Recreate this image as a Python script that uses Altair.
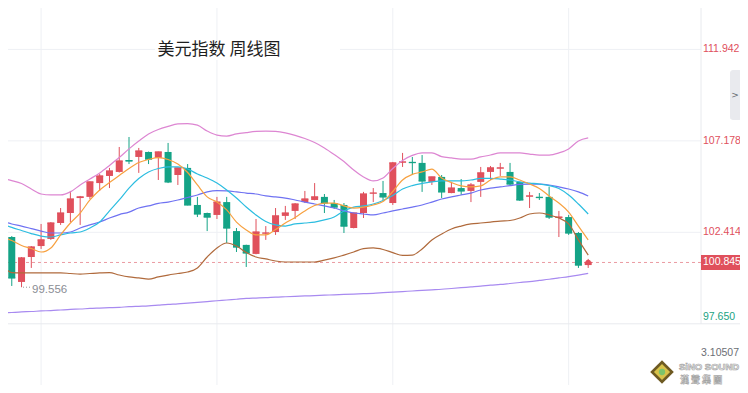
import altair as alt
import pandas as pd

# ---------------- data ----------------
title_text = "美元指数 周线图"

candle_idx = list(range(61))
opens = [103.06, 102.17, 99.83, 101.13, 101.70, 102.07, 102.90, 103.42, 104.20, 104.26,
         104.98, 105.35, 105.56, 106.18, 106.34, 106.60, 106.29, 106.60, 105.40, 105.77,
         103.84, 103.42, 103.32, 103.99, 102.48, 101.76, 101.29, 102.35, 102.43, 103.27,
         103.53, 103.99, 104.10, 104.26, 103.94, 103.84, 102.64, 103.42, 104.44, 104.46,
         103.94, 106.05, 106.08, 106.03, 105.04, 105.30, 104.46, 104.72, 104.57, 105.04,
         105.56, 105.74, 105.56, 105.04, 104.28, 104.26, 104.26, 103.16, 103.21, 102.38,
         100.71]
highs = [103.58, 102.22, 101.13, 101.70, 102.85, 102.95, 103.68, 104.57, 104.31, 105.06,
         105.45, 105.77, 106.86, 107.38, 106.81, 106.62, 106.62, 107.07, 105.78, 105.97,
         104.26, 103.44, 104.26, 104.26, 102.64, 101.77, 103.11, 102.74, 103.68, 103.79,
         103.94, 104.57, 104.98, 104.41, 104.10, 103.94, 103.44, 104.52, 104.72, 105.09,
         106.08, 106.55, 106.34, 106.44, 105.31, 105.40, 105.04, 105.19, 104.98, 105.82,
         105.87, 106.03, 106.03, 105.05, 104.52, 104.46, 104.78, 103.53, 103.32, 102.43,
         101.03]
lows = [102.17, 99.62, 99.556, 100.56, 101.55, 102.02, 102.80, 102.95, 102.80, 104.15,
        104.57, 104.72, 105.53, 105.97, 105.51, 105.97, 105.14, 104.98, 104.88, 103.82,
        103.21, 102.48, 103.11, 101.86, 101.39, 100.61, 101.27, 102.02, 102.28, 103.06,
        103.11, 103.94, 104.08, 103.42, 103.63, 102.38, 102.62, 103.16, 103.99, 104.10,
        103.84, 105.82, 105.40, 104.52, 104.88, 104.20, 104.45, 104.36, 103.99, 104.26,
        105.14, 105.35, 104.88, 104.05, 103.68, 104.10, 103.11, 102.17, 102.28, 100.56,
        100.56]
closes = [102.28, 100.04, 101.08, 101.65, 102.02, 102.90, 103.42, 104.15, 104.26, 105.04,
          105.35, 105.61, 106.13, 106.13, 106.65, 106.23, 106.60, 105.04, 105.77, 103.84,
          103.37, 103.21, 103.99, 102.64, 101.65, 101.34, 102.43, 102.38, 103.27, 103.42,
          103.89, 104.15, 104.26, 103.94, 103.73, 102.74, 103.42, 104.41, 104.46, 104.26,
          106.03, 106.08, 106.05, 105.09, 105.30, 104.52, 104.72, 104.57, 104.88, 105.51,
          105.77, 105.77, 104.93, 104.10, 104.31, 104.23, 103.21, 103.21, 102.38, 100.71,
          100.845]

boll_upper = [105.22, 105.11, 104.96, 104.67, 104.41, 104.36, 104.36, 104.52, 104.88, 105.19,
              105.51, 105.90, 106.31, 106.76, 107.17, 107.54, 107.77, 107.93, 108.06, 108.08,
              108.00, 107.69, 107.48, 107.43, 107.54, 107.61, 107.67, 107.69, 107.67, 107.59,
              107.46, 107.30, 107.09, 106.81, 106.47, 106.10, 105.66, 105.30, 105.09, 105.24,
              105.74, 106.16, 106.42, 106.55, 106.55, 106.36, 106.29, 106.23, 106.23, 106.34,
              106.44, 106.55, 106.55, 106.55, 106.49, 106.44, 106.44, 106.55, 106.76, 107.17,
              107.33]
ma_fast = [102.15, 101.99, 101.73, 101.57, 101.39, 101.60, 102.28, 102.90, 103.42, 104.10,
           104.62, 105.01, 105.37, 105.74, 106.05, 106.21, 106.31, 106.21, 105.97, 105.53,
           104.88, 104.26, 103.99, 103.58, 102.95, 102.54, 102.28, 102.28, 102.56, 102.90,
           103.19, 103.53, 103.81, 103.94, 103.94, 103.79, 103.68, 103.73, 103.84, 104.02,
           104.54, 105.14, 105.43, 105.56, 105.71, 105.24, 105.01, 104.83, 104.78, 104.83,
           105.14, 105.30, 105.30, 105.14, 104.93, 104.70, 104.31, 103.94, 103.47, 102.74,
           102.02]
ma_mid = [102.85, 102.67, 102.51, 102.35, 102.22, 102.17, 102.28, 102.38, 102.43, 102.64,
          102.95, 103.53, 104.10, 104.72, 105.22, 105.56, 105.74, 105.82, 105.82, 105.71,
          105.45, 105.24, 104.98, 104.62, 104.20, 103.73, 103.32, 102.98, 102.80, 102.74,
          102.85, 102.90, 102.95, 103.06, 103.21, 103.53, 103.73, 103.79, 103.89, 104.07,
          104.33, 104.67, 104.85, 104.96, 105.04, 105.09, 105.09, 105.09, 105.14, 105.22,
          105.22, 105.19, 105.14, 105.04, 104.98, 104.93, 104.85, 104.70, 104.36, 103.89,
          103.37]
ma_slow = [103.00, 102.85, 102.74, 102.61, 102.48, 102.38, 102.38, 102.43, 102.64, 102.80,
           102.95, 103.16, 103.34, 103.47, 103.68, 103.79, 103.92, 103.99, 104.10, 104.23,
           104.36, 104.52, 104.59, 104.57, 104.52, 104.46, 104.41, 104.31, 104.26, 104.20,
           104.10, 103.99, 103.89, 103.79, 103.68, 103.53, 103.42, 103.37, 103.32, 103.42,
           103.53, 103.63, 103.73, 103.84, 103.99, 104.15, 104.26, 104.36, 104.46, 104.62,
           104.72, 104.78, 104.85, 104.91, 104.93, 104.93, 104.88, 104.78, 104.67, 104.52,
           104.31]
boll_lower = [100.71, 100.32, 100.30, 100.30, 100.30, 100.30, 100.30, 100.27, 100.24, 100.27,
              100.30, 100.32, 100.19, 100.09, 100.04, 99.98, 100.09, 100.19, 100.27, 100.35,
              100.56, 101.13, 101.60, 101.86, 101.70, 101.36, 101.13, 101.03, 100.92, 100.87,
              100.87, 100.87, 100.87, 100.97, 101.08, 101.23, 101.39, 101.57, 101.60, 101.52,
              101.36, 101.21, 101.23, 101.55, 102.02, 102.33, 102.59, 102.74, 102.85, 102.90,
              102.95, 103.00, 103.03, 103.16, 103.37, 103.42, 103.32, 103.16, 102.85, 102.02,
              101.23]
ma_long = [98.21, 98.24, 98.27, 98.29, 98.32, 98.34, 98.37, 98.40, 98.42, 98.45,
           98.47, 98.49, 98.51, 98.54, 98.56, 98.58, 98.62, 98.66, 98.69, 98.73,
           98.77, 98.81, 98.85, 98.89, 98.93, 98.97, 98.99, 99.01, 99.04, 99.06,
           99.08, 99.10, 99.12, 99.14, 99.16, 99.18, 99.20, 99.22, 99.24, 99.27,
           99.30, 99.33, 99.36, 99.39, 99.42, 99.45, 99.49, 99.53, 99.57, 99.61,
           99.66, 99.70, 99.75, 99.80, 99.85, 99.91, 99.97, 100.04, 100.11, 100.19,
           100.28]

grid_idx = [4, 22, 40, 58]
axis_ticks = [111.942, 107.178, 102.414]
bottom_tick = 97.650
last_price = 100.845
low_price = 99.556
low_label = "99.556"
sub_panel_label = "3.10507"

# ---------------- styles ----------------
UP = "#e0505c"
DOWN = "#14a386"
GRID = "#eef0f4"
NUMFONT = "Liberation Sans"

W, H = 732, 377          # fits the 748x393 window with its 8px page margin
SEP = 693                # right price-axis separator (plot px)
LAB = 695                # right price-axis label start
xs = alt.Scale(domain=[0.614, 75.538], nice=False, zero=False, padding=0)
ys = alt.Scale(domain=[94.463, 114.098], nice=False, zero=False, padding=0)

df = pd.DataFrame({
    "i": candle_idx, "open": opens, "high": highs, "low": lows, "close": closes,
    "bu": boll_upper, "mf": ma_fast, "mm": ma_mid, "ms": ma_slow,
    "bl": boll_lower, "ml": ma_long,
})
df["dir"] = ["up" if c >= o else "down" for o, c in zip(opens, closes)]

X = alt.X("i:Q", scale=xs, axis=None)
col = alt.Color("dir:N", scale=alt.Scale(domain=["up", "down"], range=[UP, DOWN]), legend=None)
base = alt.Chart(df)

# grid
vgrid = alt.Chart(pd.DataFrame({"g": grid_idx})).mark_rule(color=GRID, strokeWidth=1, clip=True).encode(
    x=alt.X("g:Q", scale=xs, axis=None), y=alt.value(0), y2=alt.value(H))
hgrid = alt.Chart(pd.DataFrame({"v": axis_ticks})).mark_rule(color=GRID, strokeWidth=1).encode(
    y=alt.Y("v:Q", scale=ys, axis=None), x=alt.value(0), x2=alt.value(SEP))
bgrid = alt.Chart(pd.DataFrame({"v": [bottom_tick]})).mark_rule(color="#e8eaee", strokeWidth=1).encode(
    y=alt.Y("v:Q", scale=ys, axis=None), x=alt.value(0), x2=alt.value(W))
sep = alt.Chart(pd.DataFrame({"a": [0]})).mark_rule(color="#e8eaee", strokeWidth=1).encode(
    x=alt.value(SEP), y=alt.value(0), y2=alt.value(316))

# title with white backing
tbg = alt.Chart(pd.DataFrame({"a": [0]})).mark_rect(color="white").encode(
    x=alt.value(147), x2=alt.value(332), y=alt.value(33), y2=alt.value(52))
title = alt.Chart(pd.DataFrame({"t": [title_text]})).mark_text(
    font="Noto Sans CJK SC", fontSize=17, color="#1e1e1e", align="center", baseline="middle").encode(
    x=alt.value(211), y=alt.value(42), text="t:N")

# price dashed line
pline = alt.Chart(pd.DataFrame({"v": [last_price]})).mark_rule(
    color="#eb9aa1", strokeWidth=1, strokeDash=[3, 3]).encode(
    y=alt.Y("v:Q", scale=ys, axis=None), x=alt.value(0), x2=alt.value(SEP))

# candles
wick = base.mark_rule(strokeWidth=1, clip=True).encode(
    x=X, y=alt.Y("low:Q", scale=ys, axis=None), y2="high:Q", color=col)
body = base.mark_bar(size=7, clip=True).encode(
    x=X, y=alt.Y("open:Q", scale=ys, axis=None), y2="close:Q", color=col)
ctick = base.transform_calculate(xl="datum.i - 0.36", xr="datum.i + 0.36").mark_rule(
    strokeWidth=1.3, clip=True).encode(
    x=alt.X("xl:Q", scale=xs, axis=None), x2="xr:Q", y=alt.Y("close:Q", scale=ys, axis=None), color=col)

def line(field, color, w=1.2):
    return base.mark_line(color=color, strokeWidth=w, clip=True, interpolate="monotone").encode(
        x=X, y=alt.Y(f"{field}:Q", scale=ys, axis=None))

lines = [line("ml", "#a88af0"), line("bl", "#b06a3c"), line("bu", "#dd86d2"),
         line("ms", "#6f72f2"), line("mm", "#2cbde0"), line("mf", "#f7a140")]

# last point dot
lastdot = alt.Chart(pd.DataFrame({"i": [candle_idx[-1]], "v": [last_price]})).mark_point(
    filled=True, size=30, color=UP, opacity=1).encode(x=X, y=alt.Y("v:Q", scale=ys, axis=None))

# low marker
lowlead = alt.Chart(pd.DataFrame({"v": [low_price]})).mark_rule(
    color="#999999", strokeWidth=1, strokeDash=[1, 2]).encode(
    y=alt.Y("v:Q", scale=ys, axis=None), x=alt.value(15), x2=alt.value(22))
lowtext = alt.Chart(pd.DataFrame({"v": [low_price], "t": [low_label]})).mark_text(
    font=NUMFONT, fontSize=11.5, color="#8a8d94", align="left", baseline="middle", dy=3).encode(
    y=alt.Y("v:Q", scale=ys, axis=None), x=alt.value(24), text="t:N")

# right axis labels
ax_df = pd.DataFrame({"v": axis_ticks, "t": [f"{v:.3f}" for v in axis_ticks]})
axlab = alt.Chart(ax_df).mark_text(font=NUMFONT, fontSize=10.5, color="#e0505c", align="left",
                                   baseline="middle").encode(
    y=alt.Y("v:Q", scale=ys, axis=None), x=alt.value(LAB), text="t:N")
botlab = alt.Chart(pd.DataFrame({"v": [bottom_tick], "t": [f"{bottom_tick:.3f}"]})).mark_text(
    font=NUMFONT, fontSize=10.5, color="#1aa383", align="left", baseline="middle", dy=-7).encode(
    y=alt.Y("v:Q", scale=ys, axis=None), x=alt.value(LAB), text="t:N")
pbox = alt.Chart(pd.DataFrame({"v": [last_price]})).mark_rect(
    color="#e0505c", yOffset=-7.5, y2Offset=7.5).encode(
    y=alt.Y("v:Q", scale=ys, axis=None), y2="v:Q", x=alt.value(SEP), x2=alt.value(W))
plab = alt.Chart(pd.DataFrame({"v": [last_price], "t": [f"{last_price:.3f}"]})).mark_text(
    font=NUMFONT, fontSize=10.5, color="white", align="left", baseline="middle").encode(
    y=alt.Y("v:Q", scale=ys, axis=None), x=alt.value(LAB), text="t:N")
sublab = alt.Chart(pd.DataFrame({"t": [sub_panel_label]})).mark_text(
    font=NUMFONT, fontSize=10.5, color="#6b6e75", align="right", baseline="middle").encode(
    x=alt.value(W - 1), y=alt.value(345), text="t:N")

# side button (at the right edge)
btn = alt.Chart(pd.DataFrame({"a": [0]})).mark_rect(color="#e9eaee", cornerRadius=3).encode(
    x=alt.value(722), x2=alt.value(734), y=alt.value(62), y2=alt.value(112))
btntxt = alt.Chart(pd.DataFrame({"t": [">"]})).mark_text(
    fontSize=9, color="#666a72", align="center", baseline="middle", font="DejaVu Sans").encode(
    x=alt.value(727), y=alt.value(87), text="t:N")

# watermark logo
logo1 = alt.Chart(pd.DataFrame({"a": [0]})).mark_point(
    shape="diamond", filled=True, size=560, color="#6e5a22", opacity=1).encode(
    x=alt.value(654), y=alt.value(364))
logo2 = alt.Chart(pd.DataFrame({"a": [0]})).mark_point(
    shape="diamond", filled=True, size=260, color="#d8c24a", opacity=1).encode(
    x=alt.value(654), y=alt.value(364))
logo3 = alt.Chart(pd.DataFrame({"a": [0]})).mark_point(
    shape="circle", filled=True, size=40, color="#7cc36b", opacity=1).encode(
    x=alt.value(654), y=alt.value(364))
wm1 = alt.Chart(pd.DataFrame({"t": ["SiNO SOUND"]})).mark_text(
    font="Liberation Sans", fontSize=9.5, fontWeight="bold", color="#ffffff", stroke="#a6a6a6",
    strokeWidth=0.7, align="left", baseline="middle").encode(
    x=alt.value(671), y=alt.value(359), text="t:N")
wm2 = alt.Chart(pd.DataFrame({"t": ["漢   聲   集   團"]})).mark_text(
    font="Noto Sans CJK TC", fontSize=9, fontWeight="bold", color="#ffffff", stroke="#a6a6a6",
    strokeWidth=0.6, align="left", baseline="middle").encode(
    x=alt.value(672), y=alt.value(372), text="t:N")

chart = alt.layer(
    vgrid, hgrid, bgrid, sep, tbg, title, pline,
    wick, body, ctick, *lines, lastdot,
    lowlead, lowtext, axlab, botlab, pbox, plab, sublab, btn, btntxt,
    logo1, logo2, logo3, wm1, wm2,
).properties(
    width=W, height=H, autosize=alt.AutoSizeParams(type="none"), padding=0,
).configure_view(stroke=None)

chart.save("out.html", embed_options={"renderer": "svg", "actions": False})
